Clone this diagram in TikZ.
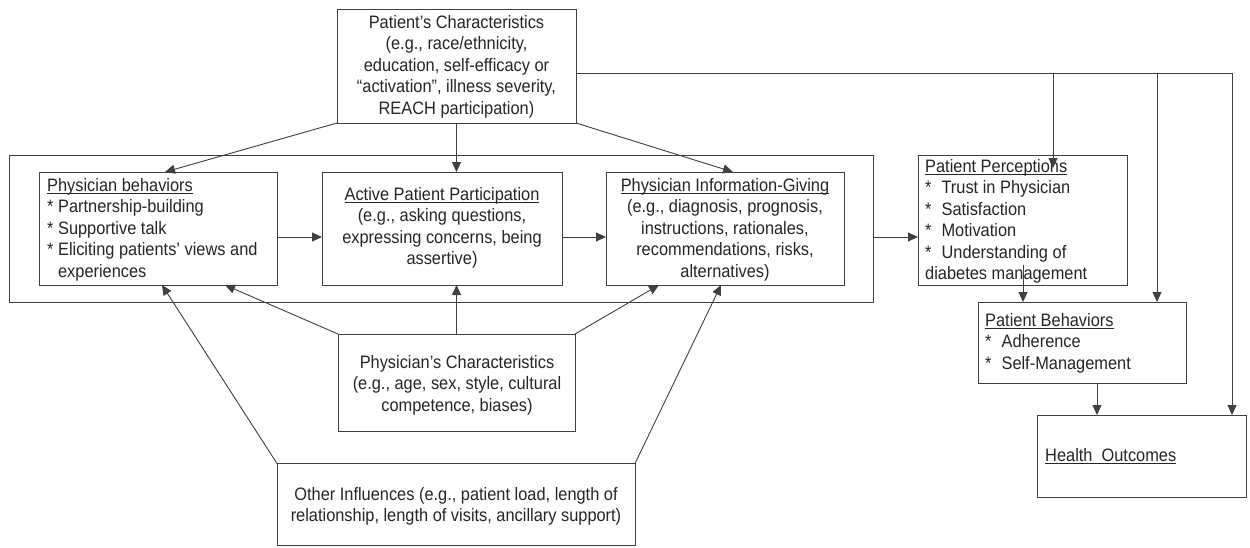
\documentclass[tikz,border=0pt]{standalone}
\usepackage{fontspec}
\setmainfont{Liberation Sans}[FakeStretch=0.91]
\usetikzlibrary{arrows.meta,calc}
\newsavebox\ulbox
\newcommand\myul[1]{\sbox\ulbox{#1}\rlap{\rule[-2.5pt]{\wd\ulbox}{0.9pt}}\usebox\ulbox}
\begin{document}
\begin{tikzpicture}[x=1pt,y=-1pt,
  box/.style={draw=black!75, line width=0.9pt, inner sep=0pt, outer sep=0pt, rectangle},
  con/.style={draw=black!75, line width=0.9pt},
  arr/.style={con, -{Triangle[length=10pt,width=9pt]}},
  txt/.style={font=\fontsize{18}{21.5}\selectfont, inner sep=0pt, text=black!85}]
\fill[white] (0,0) rectangle (1250,547);
\useasboundingbox (0,0) rectangle (1250,547);
% boxes
\node[box, minimum width=239pt, minimum height=114pt] (PC) at (456.5,66) {};
\node[box, minimum width=864pt, minimum height=147pt] (OUT) at (441,228.5) {};
\node[box, minimum width=238pt, minimum height=113pt] (PBeh) at (158,228.5) {};
\node[box, minimum width=240pt, minimum height=113pt] (APP) at (442,228.5) {};
\node[box, minimum width=238pt, minimum height=113pt] (PIG) at (725,228.5) {};
\node[box, minimum width=209pt, minimum height=130pt] (PP) at (1022.5,220) {};
\node[box, minimum width=208pt, minimum height=81pt] (PatB) at (1082,342.5) {};
\node[box, minimum width=209pt, minimum height=82pt] (HO) at (1141.5,456) {};
\node[box, minimum width=237pt, minimum height=97pt] (PhC) at (456.5,382.5) {};
\node[box, minimum width=358pt, minimum height=82pt] (OI) at (456,504.5) {};
% texts
\node[txt, anchor=north, align=center] (PCt) at (456.5,15) {Patient’s Characteristics\\(e.g., race/ethnicity,\\education, self-efficacy or\\“activation”, illness severity,\\REACH participation)};
\node[txt, anchor=north west, align=left] (PBt) at (47,178) {\myul{Physician behaviors}\\* Partnership-building\\* Supportive talk\\* Eliciting patients’ views and\\\phantom{* }experiences};
\node[txt, anchor=north, align=center] (APPt) at (442,187) {\myul{Active Patient Participation}\\(e.g., asking questions,\\expressing concerns, being\\assertive)};
\node[txt, anchor=north, align=center] (PIGt) at (725,178) {\myul{Physician Information-Giving}\\(e.g., diagnosis, prognosis,\\instructions, rationales,\\recommendations, risks,\\alternatives)};
\node[txt, anchor=north west, align=left] (PPt) at (925,159) {\myul{Patient Perceptions}\\*\hspace{10pt}Trust in Physician\\*\hspace{10pt}Satisfaction\\*\hspace{10pt}Motivation\\*\hspace{10pt}Understanding of\\diabetes management};
\node[txt, anchor=north west, align=left] (PatBt) at (985,313) {\myul{Patient Behaviors}\\*\hspace{10pt}Adherence\\*\hspace{10pt}Self-Management};
\node[txt, anchor=north west] (HOt) at (1045,448) {\myul{Health\ \ Outcomes}};
\node[txt, anchor=north, align=center] (PhCt) at (457,355) {Physician’s Characteristics\\(e.g., age, sex, style, cultural\\competence, biases)};
\node[txt, anchor=north, align=center] (OIt) at (456,487) {Other Influences (e.g., patient load, length of\\relationship, length of visits, ancillary support)};
% helper coordinates
\coordinate (t1) at (1053,73);
\coordinate (t2) at (1157,73);
\coordinate (t3) at (1232,73);
\coordinate (ppin) at (1053,168);
\coordinate (hy) at (0,237);
\coordinate (ppout) at (1023,265);
\coordinate (pbout) at (1097,383);
% connectors from patient's characteristics
\draw[arr] (PC.south west) -- ([xshift=7pt]PBeh.north);
\draw[arr] (PC.south) -- (PC.south |- APP.north);
\draw[arr] (PC.south east) -- ([xshift=8pt]PIG.north);
\draw[arr] (PC.east |- t3) -- (t3) -- (t3 |- HO.north);
\draw[arr] (t1) -- (ppin);
\draw[arr] (t2) -- (t2 |- PatB.north);
% horizontal flow
\draw[arr] (PBeh.east |- hy) -- (APP.west |- hy);
\draw[arr] (APP.east |- hy) -- (PIG.west |- hy);
\draw[arr] (OUT.east |- hy) -- (PP.west |- hy);
\draw[arr] (ppout) -- (ppout |- PatB.north);
\draw[arr] (pbout) -- (pbout |- HO.north);
% physician's characteristics
\draw[arr] (PhC.north west) -- ([xshift=67pt]PBeh.south);
\draw[arr] (PhC.north) -- (PhC.north |- APP.south);
\draw[arr] (PhC.north east) -- ([xshift=-66pt]PIG.south);
% other influences
\draw[arr] (OI.north west) -- ([xshift=4pt]PBeh.south);
\draw[arr] (OI.north east) -- ([xshift=-4pt]PIG.south);
\end{tikzpicture}
\end{document}
